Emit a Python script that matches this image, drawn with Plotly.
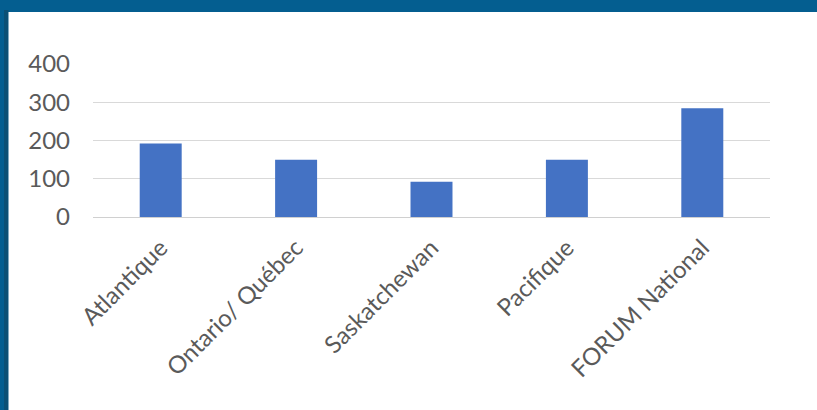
import plotly.graph_objects as go

categories = ["Atlantique", "Ontario/ Québec", "Saskatchewan", "Pacifique", "FORUM National"]
values = [192, 150, 92, 150, 284]
y_ticks = [0, 100, 200, 300, 400]

W, H = 817, 410
L, R, T, B = 93, 47, 64, 193

fig = go.Figure(go.Bar(
    x=categories, y=values,
    marker=dict(color="#4472C4", line=dict(width=0)),
    width=0.31,
))

pw = W - L - R
ph = H - T - B


def px_x(p):
    return (p - L) / pw


def px_y(p):
    return (H - B - p) / ph


# dark teal strip near the left edge
fig.add_shape(type="rect", xref="paper", yref="paper", x0=px_x(4), x1=px_x(8.5),
              y0=px_y(H + 5), y1=px_y(10), fillcolor="#0b5075", line=dict(width=0), layer="below")
# white panel
fig.add_shape(type="rect", xref="paper", yref="paper", x0=px_x(8.5), x1=px_x(W + 5),
              y0=px_y(H + 5), y1=px_y(12), fillcolor="white", line=dict(width=0), layer="below")

fig.update_layout(
    width=W, height=H,
    margin=dict(l=L, r=R, t=T, b=B),
    paper_bgcolor="#045e90",
    plot_bgcolor="white",
    showlegend=False,
    font=dict(family="Lato", color="#595959", size=24),
    xaxis=dict(tickangle=-45, showgrid=False, showline=False, ticks="",
               ticklabelstandoff=11, tickfont=dict(size=24, color="#5a5a5a")),
    yaxis=dict(range=[0, 400], tickvals=y_ticks, showgrid=True, gridcolor="#d9d9d9",
               gridwidth=1, zeroline=True, zerolinecolor="#d0d0d0", zerolinewidth=1,
               showline=False, ticks="", ticklabelstandoff=22,
               tickfont=dict(size=24, color="#5a5a5a")),
)

fig.write_html(
    "out.html",
    config={"displayModeBar": False},
    post_script="document.body.style.margin='0';document.body.style.overflow='hidden';"
                "document.body.style.background='#045e90';",
)
